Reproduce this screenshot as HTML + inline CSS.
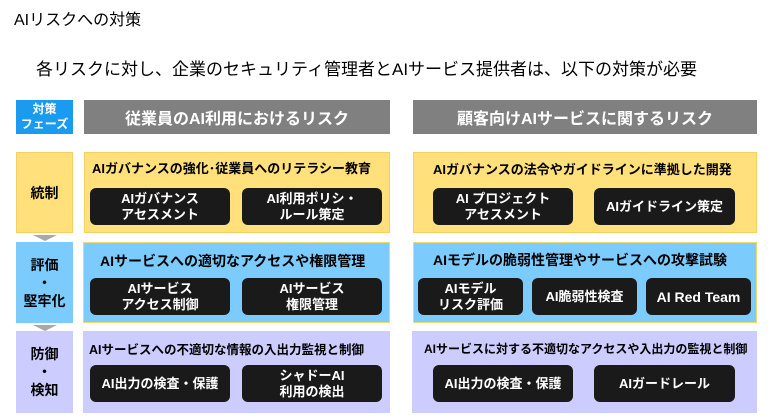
<!DOCTYPE html>
<html><head><meta charset="utf-8"><style>
*{margin:0;padding:0;box-sizing:border-box}
body{width:780px;height:419px;background:#fff;position:relative;overflow:hidden;font-family:"Liberation Sans","Noto Sans CJK JP",sans-serif;color:#000}
.a{position:absolute}
.c{display:flex;align-items:center;justify-content:center;text-align:center}
.lab{font-weight:bold;font-size:14px;line-height:18px}
.hd{background:#808080;color:#fff;font-weight:bold;font-size:16px}
.y{background:#ffe07a;border:1px solid #f5d060}
.b{background:#7ccbfd;border:1px solid #f0d870}
.p{background:#ccccfe}
.bx{background:#1a1a1a;color:#fff;border-radius:6px;font-weight:bold;font-size:13px;line-height:16px}
.t{font-weight:bold;font-size:14px;white-space:nowrap}
.arr{width:0;height:0;border-left:12px solid transparent;border-right:12px solid transparent;border-top:6px solid #a8a8a8}
</style></head><body>
<div class="a" style="left:14px;top:6px;font-size:16px">AIリスクへの対策</div>
<div class="a" style="left:36px;top:55px;font-size:17px;white-space:nowrap">各リスクに対し、企業のセキュリティ管理者とAIサービス提供者は、以下の対策が必要</div>

<div class="a c" style="left:16px;top:100px;width:57px;height:34px;background:#1a9bf0;color:#fff;font-weight:bold;font-size:12px;line-height:15px">対策<br>フェーズ</div>
<div class="a c hd" style="left:84px;top:100px;width:306px;height:34px">従業員のAI利用におけるリスク</div>
<div class="a c hd" style="left:413px;top:100px;width:344px;height:34px">顧客向けAIサービスに関するリスク</div>

<div class="a c lab y" style="left:16px;top:152px;width:57px;height:81px">統制</div>
<div class="a arr" style="left:33px;top:235px"></div>
<div class="a c lab b" style="left:16px;top:242px;width:57px;height:81px;border:none">評価<br>・<br>堅牢化</div>
<div class="a arr" style="left:33px;top:325px"></div>
<div class="a c lab p" style="left:16px;top:331px;width:57px;height:82px">防御<br>・<br>検知</div>

<div class="a y" style="left:84px;top:152px;width:306px;height:81px"></div>
<div class="a t" style="left:92px;top:158px;font-size:13px">AIガバナンスの強化･従業員へのリテラシー教育</div>
<div class="a c bx" style="left:90px;top:188px;width:140px;height:37px">AIガバナンス<br>アセスメント</div>
<div class="a c bx" style="left:242px;top:188px;width:140px;height:37px">AI利用ポリシ・<br>ルール策定</div>

<div class="a b" style="left:83px;top:242px;width:307px;height:81px"></div>
<div class="a t" style="left:100px;top:251px">AIサービスへの適切なアクセスや権限管理</div>
<div class="a c bx" style="left:90px;top:278px;width:140px;height:37px">AIサービス<br>アクセス制御</div>
<div class="a c bx" style="left:242px;top:278px;width:140px;height:37px">AIサービス<br>権限管理</div>

<div class="a p" style="left:83px;top:331px;width:307px;height:82px"></div>
<div class="a t" style="left:89px;top:339px;font-size:12.5px">AIサービスへの不適切な情報の入出力監視と制御</div>
<div class="a c bx" style="left:90px;top:365px;width:140px;height:37px">AI出力の検査・保護</div>
<div class="a c bx" style="left:242px;top:365px;width:140px;height:37px">シャドーAI<br>利用の検出</div>

<div class="a y" style="left:413px;top:152px;width:344px;height:81px"></div>
<div class="a t" style="left:433px;top:159px;font-size:13px">AIガバナンスの法令やガイドラインに準拠した開発</div>
<div class="a c bx" style="left:433px;top:188px;width:140px;height:37px">AI プロジェクト<br>アセスメント</div>
<div class="a c bx" style="left:594px;top:188px;width:141px;height:37px">AIガイドライン策定</div>

<div class="a b" style="left:413px;top:242px;width:344px;height:81px"></div>
<div class="a t" style="left:433px;top:250px">AIモデルの脆弱性管理やサービスへの攻撃試験</div>
<div class="a c bx" style="left:418px;top:278px;width:105px;height:37px">AIモデル<br>リスク評価</div>
<div class="a c bx" style="left:532px;top:278px;width:105px;height:37px">AI脆弱性検査</div>
<div class="a c bx" style="left:646px;top:278px;width:105px;height:37px;font-size:14px">AI Red Team</div>

<div class="a p" style="left:412px;top:331px;width:345px;height:82px"></div>
<div class="a t" style="left:424px;top:340px;font-size:12px">AIサービスに対する不適切なアクセスや入出力の監視と制御</div>
<div class="a c bx" style="left:433px;top:365px;width:140px;height:37px">AI出力の検査・保護</div>
<div class="a c bx" style="left:594px;top:365px;width:141px;height:37px">AIガードレール</div>
</body></html>
